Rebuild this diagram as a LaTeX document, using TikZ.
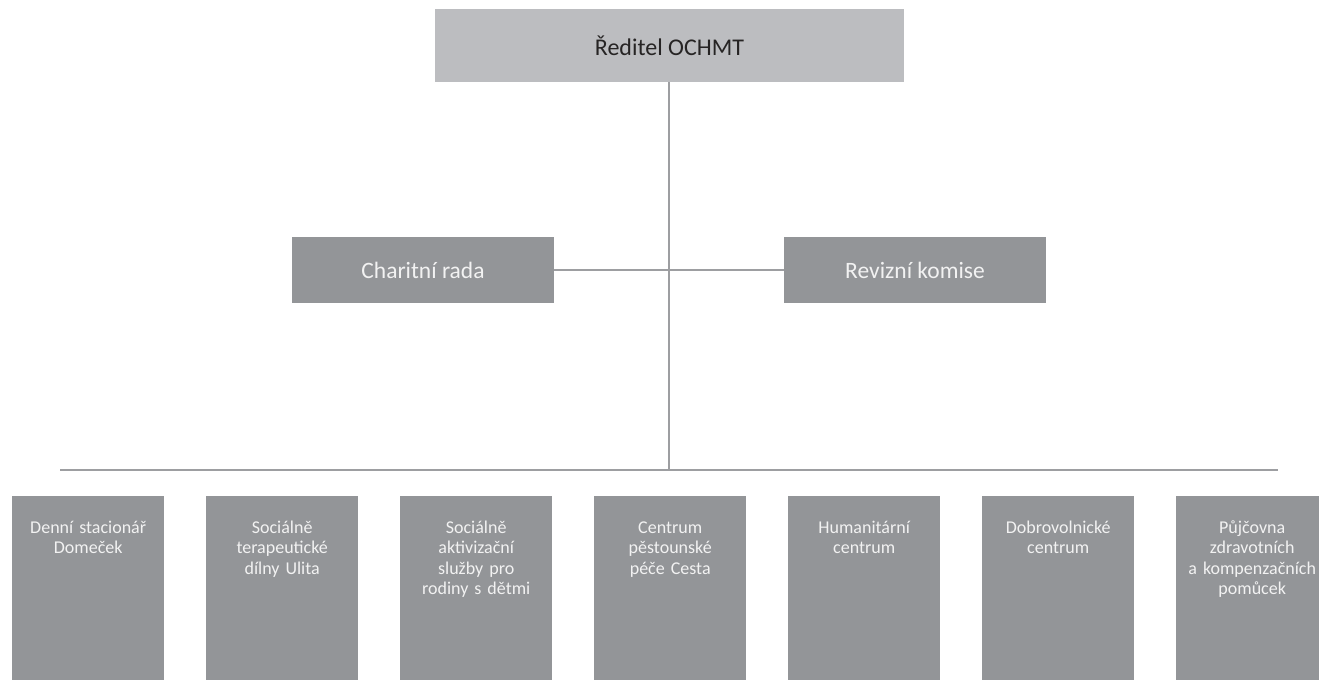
\documentclass[tikz,border=0pt]{standalone}
\usepackage{fontspec}
\setmainfont{Carlito}
\definecolor{boxlight}{HTML}{BCBDC0}
\definecolor{boxdark}{HTML}{939598}
\definecolor{linegray}{HTML}{9D9EA1}
\definecolor{txtdark}{HTML}{262424}
\definecolor{txtlight}{HTML}{F2F2F2}
\begin{document}
\begin{tikzpicture}[x=1pt,y=1pt,
  topbox/.style={fill=boxlight,draw=none,minimum width=469pt,minimum height=73pt,inner sep=0pt,
    font=\fontsize{24}{30}\selectfont,text=txtdark},
  midbox/.style={fill=boxdark,draw=none,minimum width=262pt,minimum height=66pt,inner sep=0pt,
    font=\fontsize{23.5}{28}\selectfont,text=txtlight},
  unitbox/.style={fill=boxdark,draw=none,minimum width=152pt,minimum height=184pt,inner sep=0pt},
  unittext/.style={anchor=north,align=center,text width=150pt,inner sep=0pt,
    font=\fontsize{18}{20.5}\selectfont,text=txtlight},
  conn/.style={draw=linegray,line width=2.8pt}]
\useasboundingbox (0,0) rectangle (1319,-680);
% top
\node[topbox] (dir) at (669.5,-45.5) {Ředitel OCHMT};
% middle
\node[midbox] (rada) at (423,-270) {Charitní rada};
\node[midbox] (rev) at (915,-270) {Revizní komise};
% connectors
\coordinate (vbot) at (669,-470);
\coordinate (bl) at (60,-470);
\coordinate (br) at (1278,-470);
\draw[conn] (dir.south -| vbot) -- (vbot);
\draw[conn] (rada.east) -- (rev.west);
\draw[conn] (bl) -- (br);
% bottom units
\begin{scope}
\clip (0,0) rectangle (1319,-680);
\foreach \i/\t in {0/{Denní stacionář\\Domeček},
                   1/{Sociálně\\terapeutické\\dílny Ulita},
                   2/{Sociálně\\aktivizační\\služby pro\\rodiny s dětmi},
                   3/{Centrum\\pěstounské\\péče Cesta},
                   4/{Humanitární\\centrum},
                   5/{Dobrovolnické\\centrum},
                   6/{Půjčovna\\zdravotních\\a kompenzačních\\pomůcek}} {
  \node[unitbox,anchor=north west] (u\i) at ({12+194*\i},-496) {};
  \node[unittext] (t\i) at ([yshift=-20pt]u\i.north) {\rule{0pt}{17pt}\t};
}
\end{scope}
\end{tikzpicture}
\end{document}
